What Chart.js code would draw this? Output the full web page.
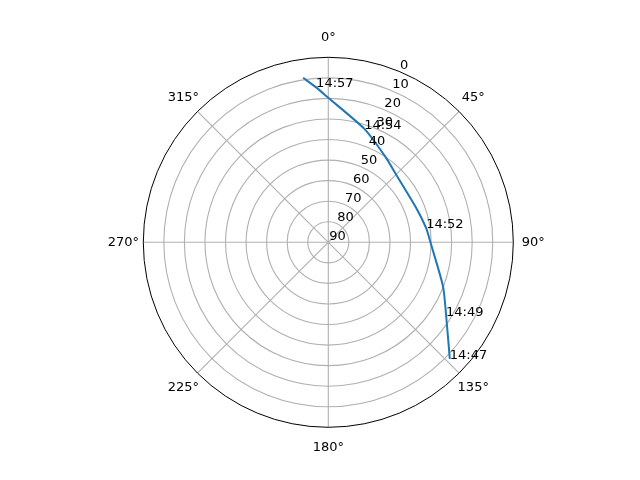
<!DOCTYPE html>
<html>
<head>
<meta charset="utf-8">
<script src="https://cdn.jsdelivr.net/npm/chart.js@4/dist/chart.umd.min.js"></script>
<style>
  body { margin: 0; background: #fff; }
  canvas { display: block; }
</style>
</head>
<body>
<canvas id="skyChart" width="640" height="480"></canvas>
<script>
// pass track: azimuth (deg, clockwise from north) and elevation (deg)
const azimuth   = [133.8, 125.5, 111.2, 90.0, 81.8, 67.7, 46.2, 33.5, 17.5, 0.0, 355.5, 351.3];
const elevation = [8.1, 19.0, 30.1, 40.3, 41.9, 44.2, 43.6, 39.9, 32.0, 19.7, 14.4, 9.0];

// time annotations
const timeLabels = ['14:47', '14:49', '14:52', '14:54', '14:57'];
const labelAz    = [133.8, 122.0, 81.8, 17.5, 355.5];
const labelEl    = [8.1, 22.5, 41.9, 32.0, 14.4];

// axis ticks
const elevationTicks = [0, 10, 20, 30, 40, 50, 60, 70, 80, 90];
const azimuthTicks   = [0, 45, 90, 135, 180, 225, 270, 315];

const FONT = '13px "DejaVu Sans"';

// radius from centre = 90 - elevation
function toXY(az, el) {
    const r = 90 - el;
    const a = az * Math.PI / 180;
    return { x: r * Math.sin(a), y: r * Math.cos(a) };
}

const track = azimuth.map((az, i) => toXY(az, elevation[i]));

const polarGrid = {
    id: 'polarGrid',
    beforeDatasetsDraw(chart) {
        const ctx = chart.ctx;
        const xs = chart.scales.x, ys = chart.scales.y;
        const cx = xs.getPixelForValue(0), cy = ys.getPixelForValue(0);
        const unit = xs.getPixelForValue(1) - cx;
        ctx.save();
        ctx.strokeStyle = '#b0b0b0';
        ctx.lineWidth = 1.1;
        // rings
        elevationTicks.forEach(v => {
            const r = (90 - v) * unit;
            if (r <= 0 || v === 0) return;
            ctx.beginPath();
            ctx.arc(cx, cy, r, 0, Math.PI * 2);
            ctx.stroke();
        });
        // spokes
        azimuthTicks.forEach(az => {
            const a = az * Math.PI / 180;
            ctx.beginPath();
            ctx.moveTo(cx, cy);
            ctx.lineTo(cx + 90 * unit * Math.sin(a), cy - 90 * unit * Math.cos(a));
            ctx.stroke();
        });
        // outer frame
        ctx.strokeStyle = '#000';
        ctx.lineWidth = 1;
        ctx.beginPath();
        ctx.arc(cx, cy, 90 * unit, 0, Math.PI * 2);
        ctx.stroke();
        ctx.restore();
    },
    afterDatasetsDraw(chart) {
        const ctx = chart.ctx;
        const xs = chart.scales.x, ys = chart.scales.y;
        const cx = xs.getPixelForValue(0), cy = ys.getPixelForValue(0);
        const unit = xs.getPixelForValue(1) - cx;
        ctx.save();
        ctx.fillStyle = '#000';
        ctx.font = FONT;
        // azimuth labels
        ctx.textAlign = 'center';
        ctx.textBaseline = 'middle';
        azimuthTicks.forEach(az => {
            const a = az * Math.PI / 180;
            const R = 90 * unit + 20;
            ctx.fillText(az + '\u00b0', cx + R * Math.sin(a), cy - R * Math.cos(a));
        });
        // elevation labels along 22.5 deg
        ctx.textAlign = 'left';
        ctx.textBaseline = 'bottom';
        const la = 22.5 * Math.PI / 180;
        elevationTicks.forEach(v => {
            const r = (90 - v) * unit;
            ctx.fillText(String(v), cx + r * Math.sin(la) + 1, cy - r * Math.cos(la) + 1);
        });
        // time annotations
        ctx.textBaseline = 'alphabetic';
        timeLabels.forEach((t, i) => {
            const p = toXY(labelAz[i], labelEl[i]);
            ctx.fillText(t, xs.getPixelForValue(p.x), ys.getPixelForValue(p.y));
        });
        ctx.restore();
    }
};

new Chart(document.getElementById('skyChart').getContext('2d'), {
    type: 'scatter',
    data: {
        datasets: [{
            data: track,
            showLine: true,
            borderColor: '#1f77b4',
            borderWidth: 2,
            pointRadius: 0,
            tension: 0.2,
            fill: false
        }]
    },
    options: {
        responsive: false,
        animation: false,
        layout: { padding: { left: 143.3, right: 126.7, top: 57.3, bottom: 52.7 } },
        scales: {
            x: { type: 'linear', min: -90, max: 90, display: false },
            y: { type: 'linear', min: -90, max: 90, display: false }
        },
        plugins: { legend: { display: false }, tooltip: { enabled: false } }
    },
    plugins: [polarGrid]
});
</script>
</body>
</html>
